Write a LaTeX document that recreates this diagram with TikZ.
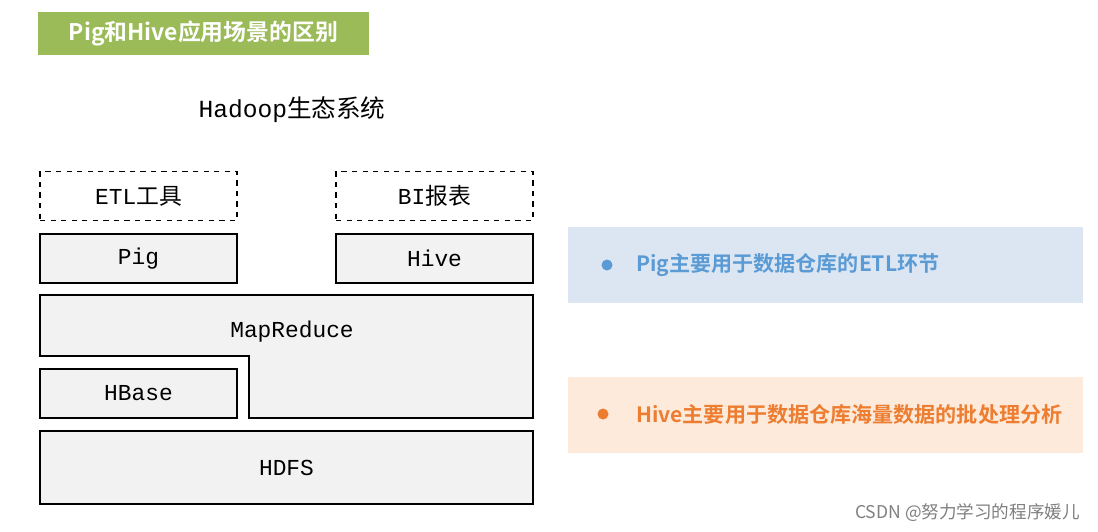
\documentclass[tikz,border=0pt]{standalone}
\usepackage{fontspec}
\setmainfont{Liberation Mono}
\newfontfamily\cjk{Noto Sans CJK SC}
\newfontfamily\cjkb{Noto Sans CJK SC Bold}
\usetikzlibrary{positioning}
\definecolor{titlegreen}{HTML}{9BBB59}
\definecolor{boxgray}{HTML}{F2F2F2}
\definecolor{pigblue}{HTML}{5B9BD5}
\definecolor{paneblue}{HTML}{DCE6F2}
\definecolor{hiveorange}{HTML}{ED7D31}
\definecolor{paneorange}{HTML}{FDEADA}
\tikzset{
  layer/.style={draw,fill=boxgray,line width=0.8pt,minimum height=0.98cm,
    minimum width=3.94cm,inner sep=0pt,font=\fontsize{13}{15}\selectfont},
  tool/.style={layer,fill=white,dashed},
  pane/.style={minimum width=10.3cm,minimum height=1.52cm,inner sep=0pt},
  note/.style={font=\cjkb\fontsize{12}{14}\selectfont,anchor=west}
}
\begin{document}
\begin{tikzpicture}[x=0.02cm,y=-0.02cm]
\useasboundingbox[fill=white] (0,0) rectangle (1098,531);
% title banner
\node[fill=titlegreen,minimum width=6.62cm,minimum height=0.86cm,text=white,
  font=\cjkb\fontsize{13}{15}\selectfont] (title) at (203.5,33.5) {Pig和Hive应用场景的区别};
\node[font=\fontsize{14}{16}\selectfont] (eco) at (292,110) {Hadoop{\cjk 生态系统}};
% stack
\node[tool] (etl) at (138.5,196) {ETL{\cjk 工具}};
\node[tool] (bi) at (434.5,196) {BI{\cjk 报表}};
\node[layer] (pig) at (138.5,258.5) {Pig};
\node[layer] (hive) at (434.5,258.5) {Hive};
\draw[fill=boxgray,line width=0.8pt] (40,295) -- (533,295) -- (533,418) -- (249,418)
  -- (249,356) -- (40,356) -- cycle;
\node[font=\fontsize{13}{15}\selectfont] (mr) at (292,332) {MapReduce};
\node[layer] (hbase) at (138.5,393.5) {HBase};
\node[layer,minimum width=9.86cm,minimum height=1.46cm] (hdfs) at (286.5,467.5) {HDFS};
% notes
\node[pane,fill=paneblue] (pigpane) at (825.5,265) {};
\fill[pigblue] (607,265) circle (5.5);
\node[note,text=pigblue] (pignote) at (630,265) {Pig主要用于数据仓库的ETL环节};
\node[pane,fill=paneorange] (hivepane) at (825.5,415) {};
\fill[hiveorange] (603,414) circle (5.5);
\node[note,text=hiveorange] (hivenote) at (630,414) {Hive主要用于数据仓库海量数据的批处理分析};
\node[anchor=east,text=gray,font=\cjk\fontsize{10}{12}\selectfont] (mark) at (1086,513) {CSDN @努力学习的程序媛儿};
\end{tikzpicture}
\end{document}
